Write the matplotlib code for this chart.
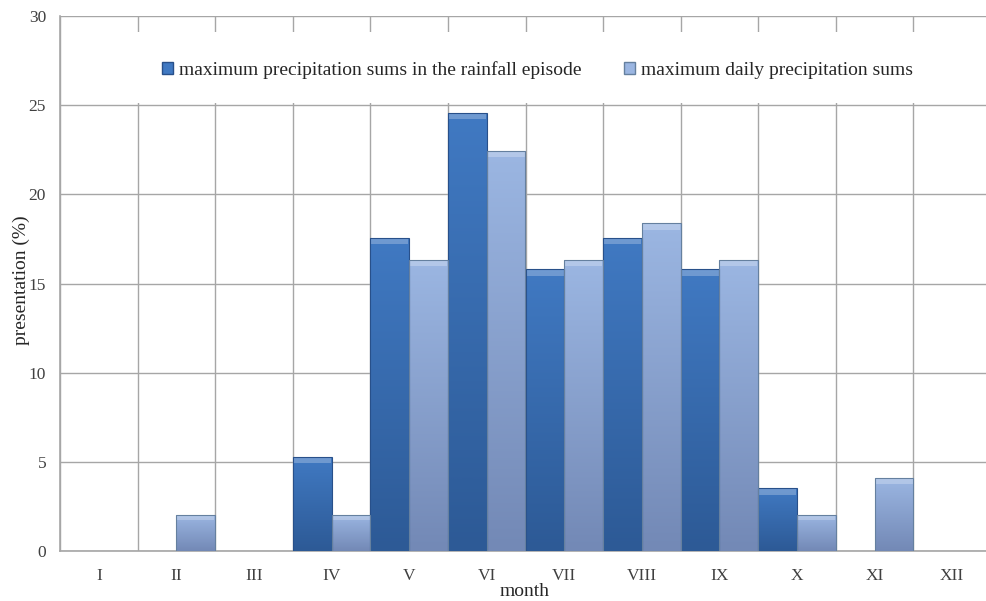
import matplotlib.pyplot as plt
from matplotlib.patches import Rectangle, Patch
from matplotlib.colors import LinearSegmentedColormap
import numpy as np

plt.rcParams['font.family'] = ['Liberation Serif', 'DejaVu Serif']

# data
months = ['I', 'II', 'III', 'IV', 'V', 'VI', 'VII', 'VIII', 'IX', 'X', 'XI', 'XII']
episode = [0, 0, 0, 5.26, 17.54, 24.56, 15.79, 17.54, 15.79, 3.51, 0, 0]
daily = [0, 2.04, 0, 2.04, 16.33, 22.45, 16.33, 18.37, 16.33, 2.04, 4.08, 0]
series_names = ['maximum precipitation sums in the rainfall episode',
                'maximum daily precipitation sums']

fig = plt.figure(figsize=(9.86, 6.01), dpi=100)
ax = fig.add_axes([60 / 986, 1 - 551 / 601, 931 / 986, 535 / 601])

x = np.arange(len(months))
w = 0.5
grid_col = '#a6a6a6'

styles = [
    dict(vals=episode, off=-w / 2, top='#4079c2', bot='#2d5a96', edge='#28508a'),
    dict(vals=daily, off=w / 2, top='#9bb6e2', bot='#7389b6', edge='#65809f'),
]

grad = np.linspace(1, 0, 64).reshape(-1, 1)
for st in styles:
    cmap = LinearSegmentedColormap.from_list('g', [st['bot'], st['top']])
    bars = ax.bar(x + st['off'], st['vals'], w, color=st['top'], edgecolor=st['edge'],
                  linewidth=0.8, zorder=3)
    for b in bars:
        h = b.get_height()
        if h == 0:
            b.set_linewidth(0)
            continue
        x0 = b.get_x()
        im = ax.imshow(grad, extent=[x0, x0 + b.get_width(), 0, h], aspect='auto',
                       cmap=cmap, vmin=0, vmax=1, zorder=3.5, interpolation='bicubic')
        im.set_clip_path(b)
        # highlight on the top edge
        ax.bar(x0 + b.get_width() / 2, min(0.35, h * 0.15), b.get_width() * 0.96,
               bottom=h - min(0.35, h * 0.15), color='white', alpha=0.25,
               linewidth=0, zorder=3.6)
        b.set_facecolor('none')
        b.set_zorder(3.7)

ax.set_xlim(-0.5, len(months) - 0.5)
ax.set_ylim(0, 30)
ax.set_yticks(range(0, 31, 5))
ax.set_xticks(x)
ax.set_xticklabels(months)
ax.set_xticks(np.arange(-0.5, len(months), 1), minor=True)
ax.tick_params(axis='both', which='both', length=0, labelsize=12.5, colors='#404040')
ax.tick_params(axis='x', pad=12)
ax.tick_params(axis='y', pad=10)

ax.grid(axis='y', which='major', color=grid_col, linewidth=1, zorder=0)
ax.grid(axis='x', which='minor', color=grid_col, linewidth=1, zorder=0)
ax.set_axisbelow(True)
for s in ['top', 'right']:
    ax.spines[s].set_visible(False)
for s in ['left', 'bottom']:
    ax.spines[s].set_color(grid_col)
    ax.spines[s].set_linewidth(1.2)

ax.set_xlabel('month', fontsize=14, color='#262626', va='center')
ax.set_ylabel('presentation (%)', fontsize=14, color='#262626', va='center')
ax.xaxis.set_label_coords((525 - 60) / 931, (551 - 592) / 535)
ax.yaxis.set_label_coords((21 - 60) / 931, (551 - 280) / 535)

# white band behind the legend
ax.add_patch(Rectangle((0.002, 0.837), 1.0, 0.133, transform=ax.transAxes,
                       facecolor='white', edgecolor='none', zorder=1))

handles = [Patch(facecolor=styles[0]['top'], edgecolor=styles[0]['edge']),
           Patch(facecolor=styles[1]['top'], edgecolor=styles[1]['edge'])]
leg = ax.legend(handles, series_names, loc='center', bbox_to_anchor=(0.513, 0.899),
                ncol=2, frameon=False, fontsize=14, handlelength=0.55,
                handleheight=0.55, handletextpad=0.3, columnspacing=2.2)
for t in leg.get_texts():
    t.set_color('#262626')

plt.savefig('out.png', dpi=100)
